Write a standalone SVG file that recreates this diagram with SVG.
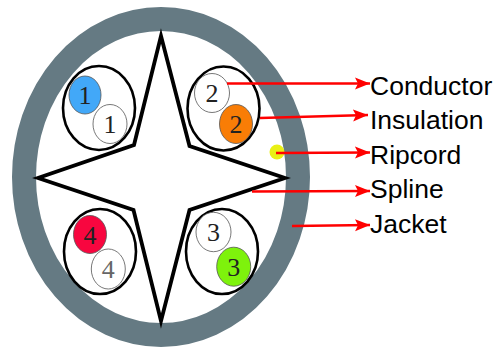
<svg xmlns="http://www.w3.org/2000/svg" width="504" height="349" viewBox="0 0 504 349">
<style>
.big{fill:none;stroke:#000;stroke-width:2.6}
.core{stroke:#555;stroke-width:.8}
.w{fill:#fff}
.num{font-family:"Liberation Serif",serif;font-size:26px;text-anchor:middle;fill:#222}
.lab{font-family:"Liberation Sans",Arial,sans-serif;font-size:26.500px;fill:#000}
.ln{fill:none;stroke:#f00;stroke-width:2.500;marker-end:url(#a)}
</style>
<defs>
<marker id="a" markerUnits="userSpaceOnUse" markerWidth="16" markerHeight="14" refX="15" refY="7" orient="auto">
<path d="M0 1L15 7L0 13L3 7Z" fill="#f00"/>
</marker>
</defs>
<rect width="504" height="349" fill="#fff"/>
<g id="jacket"><ellipse cx="161" cy="177" rx="137" ry="158" fill="#fff" stroke="#657a83" stroke-width="24"/></g>
<g id="ripcord"><circle cx="277" cy="152" r="7.500" fill="#e9f015"/></g>
<g id="spline"><path d="M161 36L189.500 146L285 178L189.500 210L161 321L133.500 210L38 178L134 145Z" fill="#fff" stroke="#000" stroke-width="3.800" stroke-linejoin="miter" stroke-miterlimit="12"/></g>
<g id="pair-1">
<ellipse class="big" cx="99" cy="108" rx="36" ry="42"/>
<ellipse class="core" cx="85" cy="95" rx="16" ry="19" fill="#42a8f8"/><text class="num" x="85" y="104">1</text>
<ellipse class="core w" cx="110" cy="124" rx="17" ry="19.500"/><text class="num" x="110" y="133">1</text>
</g>
<g id="pair-2">
<ellipse class="big" cx="223.500" cy="108.500" rx="36" ry="42"/>
<ellipse class="core w" cx="212" cy="93" rx="17.500" ry="19.500"/><text class="num" x="212" y="102">2</text>
<ellipse class="core" cx="236" cy="124" rx="16.500" ry="19.500" fill="#f97d06"/><text class="num" x="236" y="133">2</text>
</g>
<g id="pair-3">
<ellipse class="big" cx="222" cy="251.500" rx="36" ry="42.500"/>
<ellipse class="core w" cx="213.500" cy="232" rx="17.500" ry="19.700"/><text class="num" x="213.500" y="241">3</text>
<ellipse class="core" cx="233.700" cy="266.700" rx="17" ry="19.500" fill="#7ef20c"/><text class="num" x="233.700" y="276">3</text>
</g>
<g id="pair-4">
<ellipse class="big" cx="100" cy="251.500" rx="36" ry="42.500"/>
<ellipse class="core" cx="90" cy="234.500" rx="16.500" ry="19" fill="#f8063f"/><text class="num" x="90" y="243.500">4</text>
<ellipse class="core w" cx="108.300" cy="269" rx="17" ry="20"/><text class="num" x="108.300" y="278" style="fill:#666">4</text>
</g>
<g id="connectors">
<path class="ln" d="M227 83.500L370 83.500"/>
<path class="ln" d="M260 118L368 115"/>
<path class="ln" d="M276 153L370 152.500"/>
<path class="ln" d="M252 191.500L370 191"/>
<path class="ln" d="M292 226L370 225"/>
</g>
<g id="labels">
<text class="lab" x="370" y="95">Conductor</text>
<text class="lab" x="370" y="129">Insulation</text>
<text class="lab" x="370" y="164">Ripcord</text>
<text class="lab" x="370" y="198">Spline</text>
<text class="lab" x="370" y="233">Jacket</text>
</g>
</svg>
